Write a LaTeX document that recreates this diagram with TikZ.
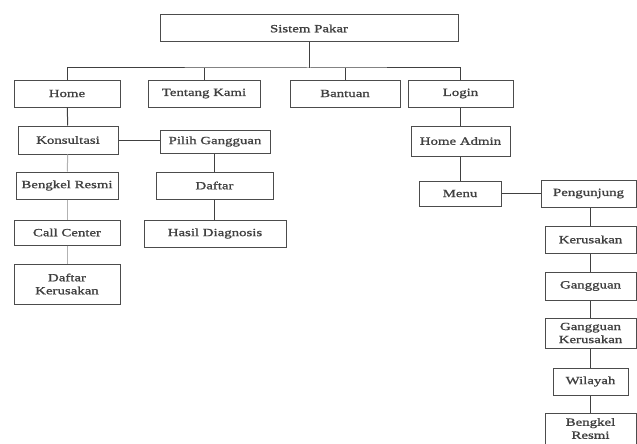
\documentclass[tikz,border=0pt]{standalone}
\usepackage{fontspec}
\setmainfont{Liberation Serif}
\newfontfamily\boxfont[FakeStretch=1.35,FakeBold=1.2]{Liberation Serif}
\begin{document}
\begin{tikzpicture}[x=1pt,y=-1pt,
  box/.style={draw=black!70,line width=1pt,fill=white,inner sep=0pt,
    font=\boxfont\fontsize{11}{13}\selectfont,text=black!75,align=center},
  link/.style={draw=black!75,line width=1pt}]
\useasboundingbox (0,0) rectangle (637,444);
% box(name, x1, y1, x2, y2, text)
\newcommand\mybox[6]{\node[box,minimum width=#4-#2,minimum height=#5-#3] (#1) at ({(#2+#4)/2},{(#3+#5)/2}) {#6};}
\mybox{root}{160}{15}{458}{42}{Sistem Pakar}
\mybox{home}{14}{80}{120}{107}{Home}
\mybox{tentang}{148}{80}{260}{107}{Tentang Kami}
\mybox{bantuan}{290}{80}{400}{107}{Bantuan}
\mybox{login}{408}{80}{513}{107}{Login}
\mybox{konsul}{18}{126}{118}{154}{Konsultasi}
\mybox{pilih}{160}{130}{270}{153}{Pilih Gangguan}
\mybox{bengkel}{16}{172}{118}{199}{Bengkel Resmi}
\mybox{call}{14}{220}{120}{245}{Call Center}
\mybox{dkerusak}{14}{264}{120}{304}{Daftar\\Kerusakan}
\mybox{daftar}{156}{172}{273}{199}{Daftar}
\mybox{hasil}{144}{220}{286}{247}{Hasil Diagnosis}
\mybox{hadmin}{411}{126}{510}{156}{Home Admin}
\mybox{menu}{419}{181}{501}{206}{Menu}
\mybox{pengunjung}{541}{180}{636}{207}{Pengunjung}
\mybox{kerusakan}{545}{226}{636}{253}{Kerusakan}
\mybox{gangguan}{545}{272}{636}{300}{Gangguan}
\mybox{gk}{545}{318}{636}{348}{Gangguan\\Kerusakan}
\mybox{wilayah}{553}{368}{628}{395}{Wilayah}
\mybox{bresmi}{545}{413}{636}{444}{Bengkel\\Resmi}
% tree from the root to the first level
\coordinate (bus) at (root.south |- 0,68);
\draw[link] (root.south) -- (bus);
\draw[link] (home.north) |- (bus) -| (login.north);
\draw[link] (tentang.north) -- (tentang.north |- bus);
\draw[link] (bantuan.north) -- (bantuan.north |- bus);
% Home branch
\draw[link] (home) -- (konsul);
\draw[link] (konsul.east) -- (konsul.east -| pilih.west);
\draw[link,draw=black!30] (konsul) -- (bengkel);
\draw[link,draw=black!30] (bengkel) -- (call);
\draw[link,draw=black!30] (call) -- (dkerusak);
\draw[link] (pilih.south -| daftar) -- (daftar);
\draw[link] (daftar) -- (hasil.north -| daftar);
% Login branch
\draw[link] (login.south) -- (login.south |- hadmin.north);
\draw[link] (hadmin.south -| menu) -- (menu);
\draw[link] (menu.east) -- (menu.east -| pengunjung.west);
\draw[link] (pengunjung.south -| kerusakan) -- (kerusakan);
\draw[link] (kerusakan) -- (gangguan);
\draw[link] (gangguan) -- (gk);
\draw[link] (gk) -- (wilayah);
\draw[link] (wilayah) -- (bresmi);
\end{tikzpicture}
\end{document}
